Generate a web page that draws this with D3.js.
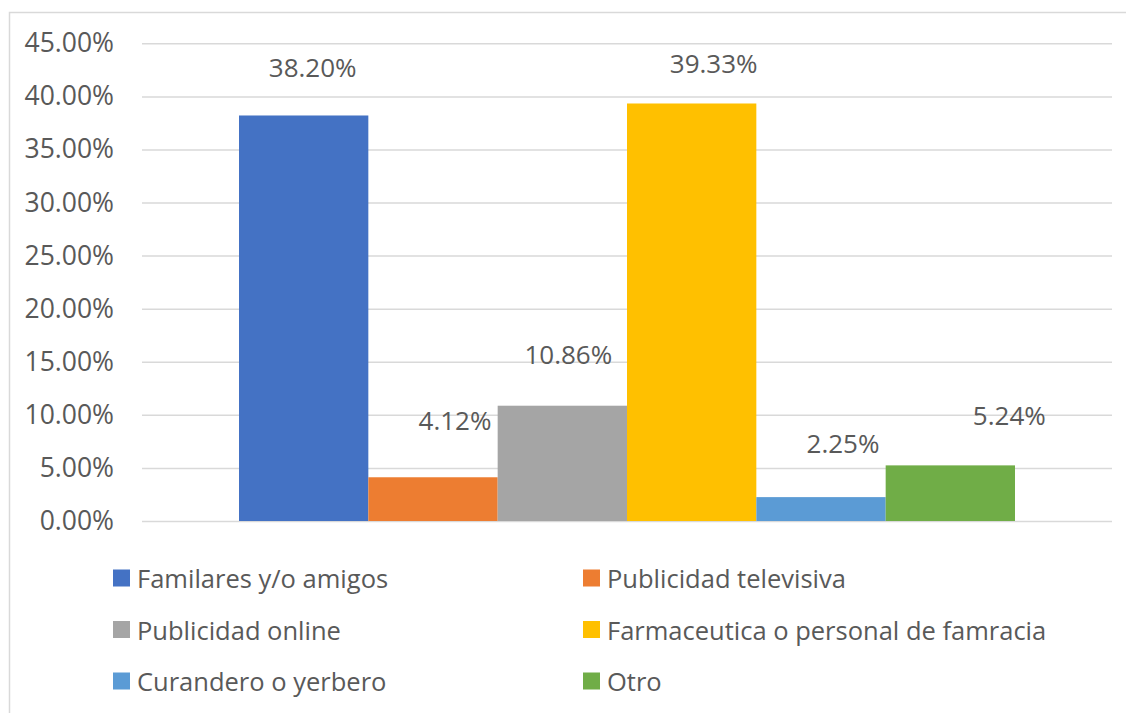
<!DOCTYPE html>
<html>
<head>
<meta charset="utf-8">
<script src="https://cdn.jsdelivr.net/npm/d3@7"></script>
<style>
  body { margin: 0; background: #fff; }
  svg text { font-family: "Open Sans", "Noto Sans", sans-serif; fill: #595959; }
</style>
</head>
<body>
<div id="chart"></div>
<script>
// series (one category, six series)
var seriesNames = [
    'Familares y/o amigos',
    'Publicidad televisiva',
    'Publicidad online',
    'Farmaceutica o personal de famracia',
    'Curandero o yerbero',
    'Otro'
];
var seriesValues = [0.3820, 0.0412, 0.1086, 0.3933, 0.0225, 0.0524];
var yTicks = [0, 0.05, 0.10, 0.15, 0.20, 0.25, 0.30, 0.35, 0.40, 0.45];

var colors = ['#4472C4', '#ED7D31', '#A5A5A5', '#FFC000', '#5B9BD5', '#70AD47'];
// data labels were moved by hand in the original, so keep the nudges (px)
var labelNudge = [[9, -48], [22, -57], [6, -52], [22, -40], [22, -54], [59, -50]];

var W = 1126, H = 713;
var plot = { left: 142, right: 1112, top: 43.3, bottom: 521 };

var svg = d3.select("#chart").append("svg")
    .attr("width", W)
    .attr("height", H);

// chart area border (only top/left visible in the picture)
svg.append("rect")
    .attr("x", 9.5).attr("y", 12.5)
    .attr("width", 1130).attr("height", 720)
    .attr("fill", "none")
    .attr("stroke", "#d9d9d9")
    .attr("stroke-width", 1.5);

var y = d3.scaleLinear()
    .domain([0, 0.45])
    .range([plot.bottom, plot.top]);

var x = d3.scaleBand()
    .domain(seriesNames)
    .range([plot.left, plot.right])
    .paddingInner(0)
    .paddingOuter(0.75);

// gridlines
var grid = svg.append("g")
    .attr("transform", "translate(" + plot.left + ",0)")
    .call(d3.axisLeft(y).tickValues(yTicks).tickSize(-(plot.right - plot.left)).tickFormat(""));
grid.select(".domain").remove();
grid.selectAll("line").attr("stroke", "#d9d9d9").attr("stroke-width", 1.5);

// y axis labels
var yAxis = svg.append("g")
    .attr("transform", "translate(" + plot.left + ",0)")
    .call(d3.axisLeft(y).tickValues(yTicks).tickSize(0).tickPadding(28).tickFormat(d3.format(".2%")));
yAxis.select(".domain").remove();
yAxis.selectAll("text")
    .attr("font-size", 26.5)
    .attr("fill", "#595959")
    .style("font-family", '"Open Sans", "Noto Sans", sans-serif');

// bars
svg.selectAll(".bar")
    .data(seriesValues)
    .enter()
    .append("rect")
    .attr("class", "bar")
    .attr("x", function (d, i) { return x(seriesNames[i]); })
    .attr("width", x.bandwidth())
    .attr("y", function (d) { return y(d); })
    .attr("height", function (d) { return y(0) - y(d); })
    .attr("fill", function (d, i) { return colors[i]; });

// data labels
svg.selectAll(".lbl")
    .data(seriesValues)
    .enter()
    .append("text")
    .attr("class", "lbl")
    .attr("x", function (d, i) { return x(seriesNames[i]) + x.bandwidth() / 2 + labelNudge[i][0]; })
    .attr("y", function (d, i) { return y(d) + labelNudge[i][1]; })
    .attr("text-anchor", "middle")
    .attr("dominant-baseline", "central")
    .attr("font-size", 26)
    .text(function (d) { return d3.format(".2%")(d); });

// legend, 2 columns x 3 rows
var legend = svg.append("g");
var colX = [113, 583], rowY = [578, 629.5, 681];
seriesNames.forEach(function (name, i) {
    var gx = colX[i % 2], gy = rowY[Math.floor(i / 2)];
    legend.append("rect")
        .attr("x", gx).attr("y", gy - 8.5)
        .attr("width", 17).attr("height", 17)
        .attr("fill", colors[i]);
    legend.append("text")
        .attr("x", gx + 24)
        .attr("y", gy)
        .attr("dominant-baseline", "central")
        .attr("font-size", 25.5)
        .text(name);
});
</script>
</body>
</html>
